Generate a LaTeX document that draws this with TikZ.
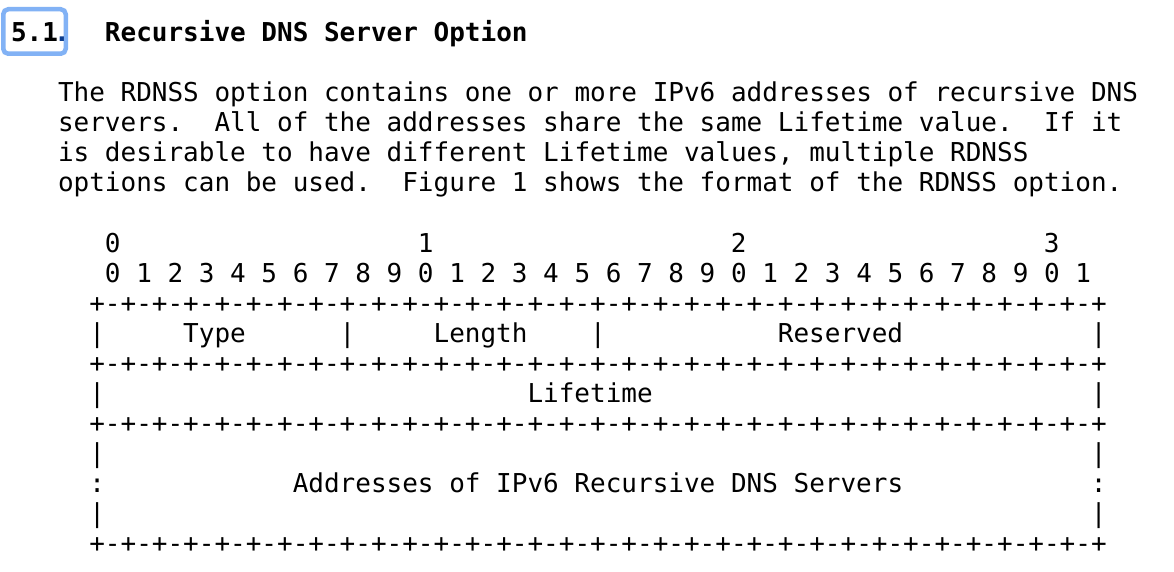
\documentclass[tikz,border=0pt]{standalone}
\usepackage{fontspec}
\newfontfamily\monofam{DejaVu Sans Mono}
\definecolor{boxblue}{RGB}{130,178,245}
\definecolor{dotblue}{RGB}{12,60,140}
\def\sepg{-+-+-+-+-+-+-+-+}
\def\sepline{+\sepg\sepg\sepg\sepg}
\def\X{11.05}
\def\P{15.65}
\tikzset{
  mono/.style={font=\monofam\fontsize{26}{30}\selectfont\frenchspacing, inner sep=0pt, outer sep=0pt, anchor=base west, text=black},
  monob/.style={mono, font=\monofam\bfseries\fontsize{26}{30}\selectfont\frenchspacing},
  anchorbox/.style={draw=boxblue, line width=4.5pt, rounded corners=5pt}
}
\begin{document}
\begin{tikzpicture}[x=1pt,y=-1pt]
\fill[white] (0,0) rectangle (1174,572);
\useasboundingbox (0,0) rectangle (1174,572);
% title
\draw[anchorbox] (3.25,9.25) rectangle (65.75,53.75);
\node[monob] (secnum) at ({\X+0*\P},42) {5.1};
\node[monob, text=dotblue] (secdot) at ({\X+3*\P-4},42) {.};
\node[monob] (title) at ({\X+6*\P},42) {Recursive DNS Server Option};
% body
\node[mono] (p1) at ({\X+3*\P},102) {The RDNSS option contains one or more IPv6 addresses of recursive DNS};
\node[mono] (p2) at ({\X+3*\P},132) {servers.\ \ All of the addresses share the same Lifetime value.\ \ If it};
\node[mono] (p3) at ({\X+3*\P},162) {is desirable to have different Lifetime values, multiple RDNSS};
\node[mono] (p4) at ({\X+3*\P},192) {options can be used.\ \ Figure 1 shows the format of the RDNSS option.};
% figure header
\node[mono] (t0) at ({\X+6*\P},252) {0};
\node[mono] (t1) at ({\X+26*\P},252) {1};
\node[mono] (t2) at ({\X+46*\P},252) {2};
\node[mono] (t3) at ({\X+66*\P},252) {3};
\node[mono] (bits) at ({\X+6*\P},282) {0 1 2 3 4 5 6 7 8 9 0 1 2 3 4 5 6 7 8 9 0 1 2 3 4 5 6 7 8 9 0 1};
% row 1
\node[mono] (s1) at ({\X+5*\P},312) {\sepline};
\node[mono] (b1a) at ({\X+5*\P},342) {|};
\node[mono] (type) at ({\X+11*\P},342) {Type};
\node[mono] (b1b) at ({\X+21*\P},342) {|};
\node[mono] (length) at ({\X+27*\P},342) {Length};
\node[mono] (b1c) at ({\X+37*\P},342) {|};
\node[mono] (reserved) at ({\X+49*\P},342) {Reserved};
\node[mono] (b1d) at ({\X+69*\P},342) {|};
\node[mono] (s2) at ({\X+5*\P},372) {\sepline};
% row 2
\node[mono] (b2a) at ({\X+5*\P},402) {|};
\node[mono] (lifetime) at ({\X+33*\P},402) {Lifetime};
\node[mono] (b2b) at ({\X+69*\P},402) {|};
\node[mono] (s3) at ({\X+5*\P},432) {\sepline};
% row 3
\node[mono] (b3a) at ({\X+5*\P},462) {|};
\node[mono] (b3b) at ({\X+69*\P},462) {|};
\node[mono] (c3a) at ({\X+5*\P},492) {:};
\node[mono] (addr) at ({\X+18*\P},492) {Addresses of IPv6 Recursive DNS Servers};
\node[mono] (c3b) at ({\X+69*\P},492) {:};
\node[mono] (b3c) at ({\X+5*\P},522) {|};
\node[mono] (b3d) at ({\X+69*\P},522) {|};
\node[mono] (s4) at ({\X+5*\P},552) {\sepline};
\end{tikzpicture}
\end{document}
